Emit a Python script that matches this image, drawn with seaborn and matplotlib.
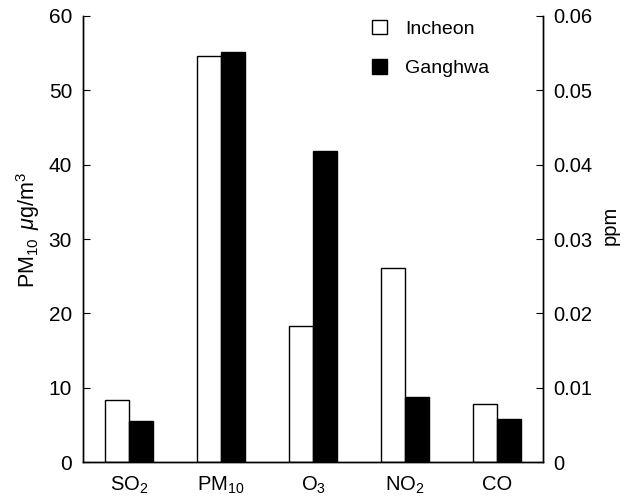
import pandas as pd
import matplotlib.pyplot as plt
import seaborn as sns
from matplotlib.patches import Patch

pollutants = ['SO$_2$', 'PM$_{10}$', 'O$_3$', 'NO$_2$', 'CO']
incheon = [8.3, 54.6, 18.3, 26.1, 7.8]
ganghwa = [5.5, 55.2, 41.9, 8.7, 5.8]
sites = ['Incheon', 'Ganghwa']

df = pd.DataFrame({
    'pollutant': pollutants * 2,
    'value': incheon + ganghwa,
    'site': [sites[0]] * 5 + [sites[1]] * 5,
})

sns.set_style('white')
plt.rcParams['font.family'] = ['Liberation Sans', 'DejaVu Sans']
plt.rcParams['mathtext.fontset'] = 'custom'
plt.rcParams['mathtext.rm'] = 'Liberation Sans'
plt.rcParams['mathtext.it'] = 'Liberation Sans:italic'
plt.rcParams['text.color'] = 'black'
plt.rcParams['axes.labelcolor'] = 'black'
plt.rcParams['xtick.color'] = 'black'
plt.rcParams['ytick.color'] = 'black'

fig, ax = plt.subplots(figsize=(6.3, 4.99), dpi=100)
fig.subplots_adjust(left=0.132, right=0.862, top=0.968, bottom=0.074)

sns.barplot(data=df, x='pollutant', y='value', hue='site', order=pollutants,
            hue_order=sites, palette={'Incheon': 'white', 'Ganghwa': 'black'},
            edgecolor='black', linewidth=1, width=0.52, ax=ax, legend=False)

ax.set_xlim(-0.5, 4.5)
ax.set_ylim(0, 60)
ax.set_yticks(range(0, 61, 10))
ax.set_xlabel('')
ax.set_ylabel('PM$_{10}$ $\\,\\mu$g/m$^3$', fontsize=15.5, labelpad=5)
ax.yaxis.label.set_y(0.52)

# ticks between categories, labels at centres
ax.set_xticks([0.5, 1.5, 2.5, 3.5])
ax.set_xticklabels([])
ax.set_xticks(range(5), minor=True)
ax.set_xticklabels(pollutants, minor=True)
ax.tick_params(axis='x', which='major', direction='in', length=5, width=0.8)
ax.tick_params(axis='x', which='minor', length=0, pad=9, labelsize=14.5)
ax.tick_params(axis='y', direction='in', length=5, width=0.8, labelsize=15,
               left=True, pad=8)

ax2 = ax.twinx()
ax2.set_ylim(0, 0.06)
ax2.set_yticks([0, 0.01, 0.02, 0.03, 0.04, 0.05, 0.06])
ax2.set_yticklabels(['0', '0.01', '0.02', '0.03', '0.04', '0.05', '0.06'])
ax2.set_ylabel('ppm', fontsize=14.5, labelpad=6)
ax2.yaxis.label.set_y(0.53)
ax2.tick_params(axis='y', direction='in', length=5, width=0.8, labelsize=14.5,
                right=True, pad=7)

for a in (ax, ax2):
    a.spines['top'].set_visible(False)
    for s in ('left', 'right', 'bottom'):
        a.spines[s].set_color('black')
        a.spines[s].set_linewidth(1)

handles = [Patch(facecolor='white', edgecolor='black', linewidth=1),
           Patch(facecolor='black', edgecolor='black')]
ax.legend(handles, sites, loc='upper left', bbox_to_anchor=(0.59, 1.03),
          frameon=False, handlelength=0.75, handleheight=0.75,
          labelspacing=1.1, handletextpad=0.95, fontsize=14)

fig.savefig('out.png', dpi=100)
